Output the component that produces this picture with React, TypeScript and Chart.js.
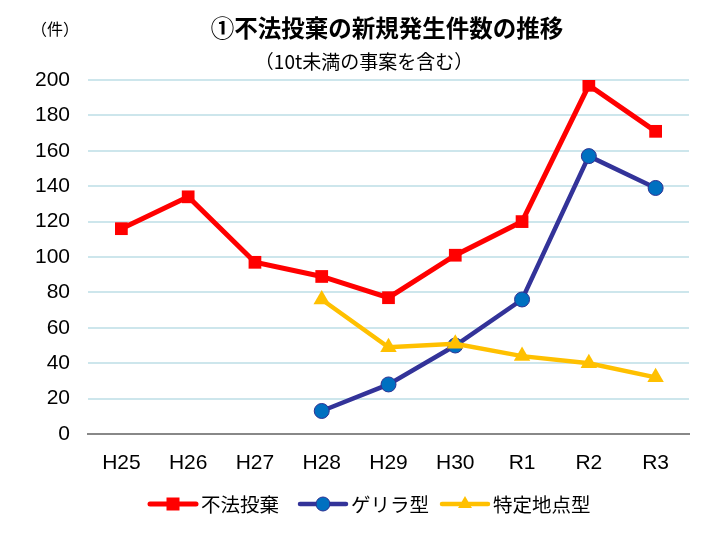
import React, { useEffect, useRef } from "react";
import { Chart, registerables } from "chart.js";

Chart.register(...registerables);

const categories = ["H25", "H26", "H27", "H28", "H29", "H30", "R1", "R2", "R3"];
const illegalDumping = [116, 134, 97, 89, 77, 101, 120, 197, 171];
const guerrilla = [null, null, null, 13, 28, 50, 76, 157, 139];
const specificSite = [null, null, null, 76, 49, 51, 44, 40, 32];
const seriesNames = ["不法投棄", "ゲリラ型", "特定地点型"];
const titleText = "①不法投棄の新規発生件数の推移";
const subtitleText = "（10t未満の事案を含む）";
const unitText = "（件）";
const yMin = 0;
const yMax = 200;
const yStep = 20;

const LATIN = '"Liberation Sans", Arial, "Noto Sans CJK JP", sans-serif';
const CJK = '"Noto Sans CJK JP", "Liberation Sans", sans-serif';

const legendStarts = [150, 300, 442];

const textPlugin = {
  id: "texts",
  afterDraw(chart: any) {
    const ctx = chart.ctx;
    ctx.save();
    ctx.fillStyle = "#000";
    ctx.textBaseline = "middle";
    ctx.textAlign = "center";
    ctx.font = `bold 23.5px ${CJK}`;
    ctx.fillText(titleText, 387, 28);
    ctx.font = `19px ${CJK}`;
    ctx.fillText(subtitleText, 364, 62);
    ctx.font = `16px ${CJK}`;
    ctx.fillText(unitText, 55, 29);

    // legend
    const ds = chart.data.datasets;
    ctx.font = `19.5px ${CJK}`;
    const lineW = 46;
    const gap = 5;
    const y = 504;
    ds.forEach((d: any, i: number) => {
      const x = legendStarts[i];
      ctx.strokeStyle = d.borderColor;
      ctx.lineWidth = d.borderWidth;
      ctx.lineCap = "round";
      ctx.beginPath();
      ctx.moveTo(x, y);
      ctx.lineTo(x + lineW, y);
      ctx.stroke();
      const cx = x + lineW / 2;
      ctx.fillStyle = d.pointBackgroundColor;
      ctx.strokeStyle = d.pointBorderColor;
      ctx.lineWidth = d.pointBorderWidth;
      ctx.beginPath();
      if (d.pointStyle === "rect") {
        ctx.rect(cx - 6.5, y - 6.5, 13, 13);
        ctx.fill();
      } else if (d.pointStyle === "circle") {
        ctx.arc(cx, y, 7, 0, Math.PI * 2);
        ctx.fill();
        ctx.stroke();
      } else {
        const r = 8;
        ctx.moveTo(cx, y - r);
        ctx.lineTo(cx + r * 0.866, y + r / 2);
        ctx.lineTo(cx - r * 0.866, y + r / 2);
        ctx.closePath();
        ctx.fill();
      }
      ctx.fillStyle = "#000";
      ctx.textAlign = "left";
      ctx.fillText(d.label, x + lineW + gap, y + 1);
    });
    ctx.restore();
  },
};

export default function App() {
  const ref = useRef<HTMLCanvasElement | null>(null);
  useEffect(() => {
    if (!ref.current) return;
    const chart = new Chart(ref.current, {
      type: "line",
      data: {
        labels: categories,
        datasets: [
          {
            label: seriesNames[0],
            data: illegalDumping,
            borderColor: "#ff0000",
            backgroundColor: "#ff0000",
            borderWidth: 5,
            pointStyle: "rect",
            pointRadius: 9,
            pointHoverRadius: 9,
            pointBackgroundColor: "#ff0000",
            pointBorderColor: "#ff0000",
            pointBorderWidth: 0,
            tension: 0,
            order: 0,
          } as any,
          {
            label: seriesNames[1],
            data: guerrilla,
            borderColor: "#333399",
            backgroundColor: "#0070c0",
            borderWidth: 4.5,
            pointStyle: "circle",
            pointRadius: 7.5,
            pointHoverRadius: 7.5,
            pointBackgroundColor: "#0070c0",
            pointBorderColor: "#2e3192",
            pointBorderWidth: 1,
            tension: 0,
            order: 2,
          } as any,
          {
            label: seriesNames[2],
            data: specificSite,
            borderColor: "#ffc000",
            backgroundColor: "#ffc000",
            borderWidth: 4.5,
            pointStyle: "triangle",
            pointRadius: 9.5,
            pointHoverRadius: 9.5,
            pointBackgroundColor: "#ffc000",
            pointBorderColor: "#ffc000",
            pointBorderWidth: 0,
            tension: 0,
            order: 1,
          } as any,
        ],
      },
      options: {
        responsive: false,
        animation: false,
        layout: { padding: { top: 80, right: 23, bottom: 0, left: 0 } },
        plugins: {
          legend: { display: false },
          title: { display: false },
          tooltip: { enabled: false },
        },
        scales: {
          x: {
            offset: true,
            grid: { display: false, drawTicks: false },
            border: { display: true, color: "#888888", width: 2 },
            ticks: {
              color: "#000",
              font: { family: LATIN, size: 21 },
              padding: 17,
              maxRotation: 0,
              autoSkip: false,
            },
            afterFit: (s: any) => {
              s.height = 100;
            },
          },
          y: {
            min: yMin,
            max: yMax,
            grid: {
              color: (c: any) => (c.tick && c.tick.value === 0 ? "rgba(0,0,0,0)" : "#cde6ec"),
              lineWidth: 2,
              drawTicks: false,
            },
            border: { display: false },
            ticks: {
              stepSize: yStep,
              color: "#000",
              font: { family: LATIN, size: 21 },
              padding: 18,
            },
            afterFit: (s: any) => {
              s.width = 88;
            },
          },
        },
      },
      plugins: [textPlugin],
    });
    return () => chart.destroy();
  }, []);
  return (
    <div style={{ position: "absolute", left: 0, top: 0, width: 712, height: 534, background: "#fff" }}>
      <canvas ref={ref} width={712} height={534} />
    </div>
  );
}
